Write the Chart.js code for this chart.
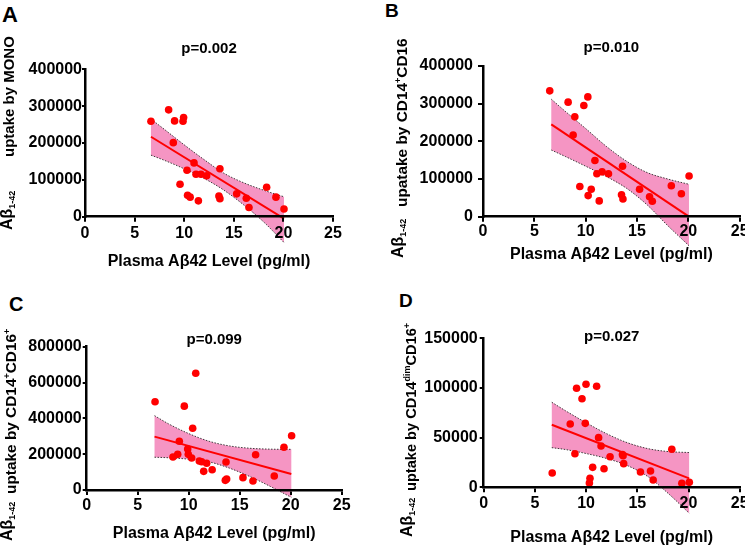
<!DOCTYPE html>
<html lang="en">
<head>
<meta charset="UTF-8">
<title>Aβ1-42 uptake vs plasma Aβ42</title>
<script src="https://cdn.jsdelivr.net/npm/chart.js"></script>
<style>
  body { margin: 0; width: 745px; height: 548px; overflow: hidden; background: #fff; position: relative;
         font-family: "Liberation Sans", Arial, Helvetica, sans-serif; color: #000; }
  canvas { position: absolute; }
  .tag { position: absolute; font-weight: bold; line-height: 1; }
  .yl { position: absolute; white-space: nowrap; font-weight: bold; font-size: 16px; line-height: 18px;
        transform-origin: 0 0; }
  .yl sub { font-size: 9px; vertical-align: -3px; }
  .yl sup { font-size: 9px; vertical-align: 6px; }
</style>
</head>
<body>
  <div class="tag" style="left:2px;top:4px;font-size:22px">A</div>
  <div class="tag" style="left:385px;top:1px;font-size:19px">B</div>
  <div class="tag" style="left:9px;top:294px;font-size:20px">C</div>
  <div class="tag" style="left:399px;top:291px;font-size:19px">D</div>

  <canvas id="cA" width="372" height="274" style="left:0;top:0"></canvas>
  <canvas id="cB" width="390" height="274" style="left:372px;top:0"></canvas>
  <canvas id="cC" width="372" height="274" style="left:0;top:274px"></canvas>
  <canvas id="cD" width="390" height="274" style="left:372px;top:274px"></canvas>

  <div class="yl" style="left:9px;top:230px;transform:rotate(-90deg) translateY(-50%)">Aβ<sub>1-42</sub></div>
  <div class="yl" style="left:9px;top:157px;font-size:15px;transform:rotate(-90deg) translateY(-50%)">uptake by MONO</div>

  <div class="yl" style="left:400px;top:258px;transform:rotate(-90deg) translateY(-50%)">Aβ<sub>1-42</sub></div>
  <div class="yl" style="left:400px;top:207px;font-size:15.4px;transform:rotate(-90deg) translateY(-50%)">upatake by CD14<sup>+</sup>CD16</div>

  <div class="yl" style="left:9px;top:541px;transform:rotate(-90deg) translateY(-50%)">Aβ<sub>1-42</sub></div>
  <div class="yl" style="left:9px;top:494px;font-size:15.4px;transform:rotate(-90deg) translateY(-50%)">uptake by CD14<sup>+</sup>CD16<sup>+</sup></div>

  <div class="yl" style="left:409px;top:537px;transform:rotate(-90deg) translateY(-50%)">Aβ<sub>1-42</sub></div>
  <div class="yl" style="left:409px;top:491px;font-size:14.6px;transform:rotate(-90deg) translateY(-50%)">uptake by CD14<sup>dim</sup>CD16<sup>+</sup></div>

<script>
// plasma Aβ42 (pg/ml) and uptake per panel
const xA = [6.65, 8.43, 8.9, 9.03, 9.58, 9.88, 9.94, 10.28, 10.34, 10.6, 10.99, 11.19, 11.43, 11.69, 12.26, 13.5, 13.6, 13.6, 15.29, 16.26, 16.53, 18.31, 19.25, 20.06];
const yA = [259000, 290000, 201000, 260000, 88000, 259000, 269000, 126000, 58000, 53000, 146000, 115000, 43000, 115000, 111000, 56000, 130000, 49000, 62000, 50000, 25000, 80000, 53000, 21000];

const xB = [6.5, 8.29, 8.78, 8.94, 9.43, 9.82, 10.21, 10.24, 10.54, 10.9, 11.09, 11.32, 11.6, 12.22, 13.49, 13.59, 13.63, 15.25, 16.22, 16.49, 18.34, 19.32, 20.07];
const yB = [334000, 304000, 217000, 265000, 80000, 295000, 318000, 56000, 73000, 149000, 114000, 42000, 119000, 114000, 58000, 134000, 47000, 73000, 53000, 41000, 82000, 61000, 108000];

const xC = [6.7, 8.46, 8.92, 9.08, 9.57, 9.9, 9.96, 10.29, 10.39, 10.69, 11.04, 11.27, 11.47, 11.76, 12.3, 13.59, 13.66, 13.72, 15.32, 16.3, 16.56, 18.39, 19.34, 20.09];
const yC = [493000, 184000, 199000, 272000, 468000, 229000, 199000, 179000, 345000, 652000, 162000, 158000, 104000, 149000, 113000, 54000, 156000, 61000, 69000, 50000, 197000, 78000, 239000, 303000];

const xD = [6.69, 8.45, 8.91, 9.07, 9.6, 9.92, 9.99, 10.32, 10.38, 10.64, 11.03, 11.22, 11.46, 11.75, 12.34, 13.55, 13.61, 13.67, 15.31, 16.29, 16.55, 18.37, 19.35, 20.08];
const yD = [14400, 63700, 33800, 99700, 89200, 64400, 103700, 4300, 9100, 20100, 101700, 50000, 41600, 18700, 30800, 33000, 31800, 23800, 15400, 16400, 7300, 38300, 4000, 5000];

// regression line ends and 95% band
const fitX  = [6.65, 20.06];
const bandX = [6.65, 8, 10, 12, 14, 16, 18, 20.06];

const fitA   = [217000, -5000];
const upperA = [265000, 237000, 195000, 155000, 118000, 92000, 72000, 54000];
const lowerA = [167000, 153000, 130000, 104000, 72000, 32000, -14000, -70000];

const fitB   = [245000, 0];
const upperB = [312000, 280000, 234000, 187000, 147000, 117000, 100000, 86000];
const lowerB = [177000, 160000, 134000, 107000, 75000, 31000, -24000, -77000];

const fitC   = [298000, 89000];
const upperC = [415000, 370000, 315000, 272000, 246000, 233000, 228000, 227000];
const lowerC = [183000, 180000, 172000, 157000, 122000, 75000, 20000, -41000];

const fitD   = [63000, 9000];
const upperD = [85600, 77000, 65000, 54000, 45000, 39000, 36000, 35000];
const lowerD = [39900, 38000, 34000, 29000, 22000, 11000, -6000, -26000];

// axes: [min, max, step]
const xAxis = [0, 25, 5];
const yAxisA = [0, 400000, 100000];
const yAxisB = [0, 400000, 100000];
const yAxisC = [0, 800000, 200000];
const yAxisD = [0, 150000, 50000];

const pValues = ['p=0.002', 'p=0.010', 'p=0.099', 'p=0.027'];
const xTitle = 'Plasma Aβ42 Level (pg/ml)';

const FONT = '"Liberation Sans", Arial, Helvetica, sans-serif';
const RED = '#ff0000';
const PINK = '#f595c3';

const pairs = (xs, ys) => xs.map((x, i) => ({ x: x, y: ys[i] }));

// confidence band fill between the two dotted edge datasets (2 and 3);
// done by hand because the filler stops at the chart area and the band dips under the x axis
const bandFill = {
  id: 'bandFill',
  beforeDatasetsDraw(chart) {
    const up = chart.getDatasetMeta(2).data;
    const lo = chart.getDatasetMeta(3).data;
    const ctx = chart.ctx;
    const n = lo.length - 1;
    const seg = (a, b, fwd) => {
      const c1x = fwd ? a.cp2x : a.cp1x, c1y = fwd ? a.cp2y : a.cp1y;
      const c2x = fwd ? b.cp1x : b.cp2x, c2y = fwd ? b.cp1y : b.cp2y;
      if ([c1x, c1y, c2x, c2y].every(Number.isFinite)) ctx.bezierCurveTo(c1x, c1y, c2x, c2y, b.x, b.y);
      else ctx.lineTo(b.x, b.y);
    };
    ctx.save();
    ctx.fillStyle = PINK;
    ctx.beginPath();
    ctx.moveTo(up[0].x, up[0].y);
    for (let i = 1; i < up.length; i++) seg(up[i-1], up[i], true);
    ctx.lineTo(lo[n].x, lo[n].y);
    for (let i = n - 1; i >= 0; i--) seg(lo[i+1], lo[i], false);
    ctx.closePath();
    ctx.fill();
    ctx.restore();
  }
};

function panel(id, d, g) {
  const cv = document.getElementById(id);
  const W = cv.width, H = cv.height;
  const tickFont = { family: FONT, size: 16, weight: 'bold' };
  const bandLine = { borderColor: '#3c3c3c', borderWidth: 1, borderDash: [1.5, 1.5], pointRadius: 0,
                     cubicInterpolationMode: 'monotone', capBezierPoints: false, clip: false, fill: false };
  return new Chart(cv, {
    type: 'line',
    data: {
      datasets: [
        { data: pairs(d.x, d.y), showLine: false, pointRadius: 3.8, pointHoverRadius: 3.8,
          pointBackgroundColor: RED, pointBorderWidth: 0, borderColor: RED },
        { data: pairs(fitX, d.fit), borderColor: RED, borderWidth: 2, pointRadius: 0, clip: false },
        Object.assign({ data: pairs(bandX, d.upper) }, bandLine),
        Object.assign({ data: pairs(bandX, d.lower) }, bandLine)
      ]
    },
    plugins: [bandFill],
    options: {
      responsive: false,
      animation: false,
      devicePixelRatio: 1,
      events: [],
      layout: { padding: { left: 0, top: 0, right: W - g.right, bottom: 0 } },
      plugins: {
        legend: { display: false },
        tooltip: { enabled: false },
        title: {
          display: true, text: d.p, color: '#000', fullSize: false,
          font: { family: FONT, size: 15, weight: 'bold', lineHeight: 1 },
          padding: { top: g.titleC - 7.5, bottom: g.top - g.titleC - 7.5 }
        }
      },
      scales: {
        x: {
          type: 'linear', min: xAxis[0], max: xAxis[1],
          ticks: { stepSize: xAxis[2], color: '#000', font: tickFont, padding: g.xPad, z: 1 },
          grid: { drawOnChartArea: false, tickLength: 5, color: '#000', lineWidth: 2, z: 1 },
          border: { color: '#000', width: 2.5, z: 1 },
          title: { display: true, text: xTitle, color: '#000', font: tickFont,
                   padding: { top: 0, bottom: g.xtPad } },
          afterFit: s => { s.height = H - g.bottom; }
        },
        y: {
          type: 'linear', min: d.yAxis[0], max: d.yAxis[1],
          ticks: { stepSize: d.yAxis[2], color: '#000', font: tickFont, padding: g.yPad,
                   callback: v => String(v), z: 1 },
          grid: { drawOnChartArea: false, tickLength: g.yTick, color: '#000', lineWidth: 2, z: 1 },
          border: { color: '#000', width: 2.5, z: 1 },
          afterFit: s => { s.width = g.left; }
        }
      }
    }
  });
}

panel('cA', { x: xA, y: yA, fit: fitA, upper: upperA, lower: lowerA, yAxis: yAxisA, p: pValues[0] },
      { left: 85, right: 333, top: 69.3, bottom: 216.7, titleC: 49, xPad: 2, xtPad: 2.4, yTick: 3, yPad: 0 });
panel('cB', { x: xB, y: yB, fit: fitB, upper: upperB, lower: lowerB, yAxis: yAxisB, p: pValues[1] },
      { left: 111, right: 367.7, top: 66, bottom: 216.7, titleC: 48, xPad: 0, xtPad: 9.4, yTick: 5, yPad: 5 });
panel('cC', { x: xC, y: yC, fit: fitC, upper: upperC, lower: lowerC, yAxis: yAxisC, p: pValues[2] },
      { left: 86.7, right: 341.7, top: 72.7, bottom: 216, titleC: 65.7, xPad: 1, xtPad: 4.4, yTick: 4, yPad: 1 });
panel('cD', { x: xD, y: yD, fit: fitD, upper: upperD, lower: lowerD, yAxis: yAxisD, p: pValues[3] },
      { left: 111.7, right: 367.7, top: 64.3, bottom: 213.3, titleC: 63.3, xPad: 2, xtPad: 1.1, yTick: 4, yPad: 2 });
</script>
</body>
</html>
